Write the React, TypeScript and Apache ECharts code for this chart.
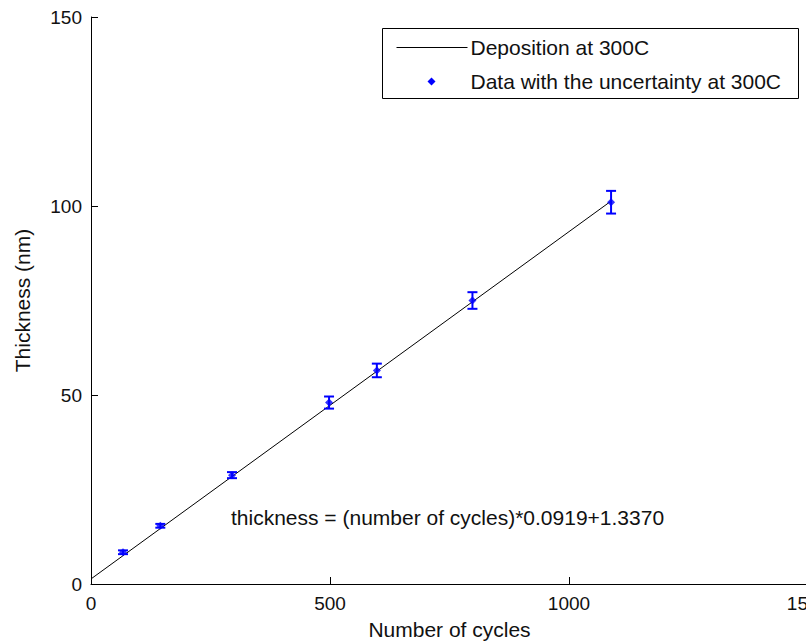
import React, { useEffect, useRef } from "react";
import * as echarts from "echarts";

const cycles = [67, 145, 295, 498, 598, 798, 1088];
const thickness = [8.4, 15.4, 28.8, 48.0, 56.5, 75.0, 101.0];
const uncertainty = [0.5, 0.5, 0.8, 1.6, 1.8, 2.2, 3.0];
const fitCycles = [0, 1088];
const fitThickness = [1.34, 101.3];
const xTicks = [0, 500, 1000, 1500];
const yTicks = [0, 50, 100, 150];
const lineName = "Deposition at 300C";
const dataName = "Data with the uncertainty at 300C";
const equation = "thickness = (number of cycles)*0.0919+1.3370";

export default function App() {
  const ref = useRef<HTMLDivElement>(null);
  useEffect(() => {
    if (!ref.current) return;
    const chart = echarts.init(ref.current, null, { renderer: "svg" });
    const font = "'Liberation Sans', Arial, sans-serif";
    const txt = "#111";
    chart.setOption({
      animation: false,
      backgroundColor: "#fff",
      textStyle: { fontFamily: font },
      grid: { left: 91, top: 17, width: 717, height: 567, containLabel: false, outerBoundsMode: "none" },
      xAxis: {
        type: "value",
        min: xTicks[0],
        max: xTicks[xTicks.length - 1],
        interval: 500,
        name: "Number of cycles",
        nameLocation: "middle",
        nameGap: 35,
        nameTextStyle: { fontSize: 21, color: txt, fontFamily: font },
        axisLine: { lineStyle: { color: "#000", width: 1 } },
        axisTick: { inside: true, length: 7, lineStyle: { color: "#000" } },
        axisLabel: { fontSize: 19, color: txt, margin: 10, fontFamily: font, formatter: (v: number) => String(v), hideOverlap: false },
        splitLine: { show: false },
      },
      yAxis: {
        type: "value",
        min: yTicks[0],
        max: yTicks[yTicks.length - 1],
        interval: 50,
        name: "Thickness (nm)",
        nameLocation: "middle",
        nameGap: 58,
        nameTextStyle: { fontSize: 21, color: txt, fontFamily: font },
        axisLine: { show: true, lineStyle: { color: "#000", width: 1 } },
        axisTick: { show: true, inside: true, length: 7, lineStyle: { color: "#000" } },
        axisLabel: { fontSize: 19, color: txt, margin: 9, fontFamily: font, formatter: (v: number) => String(v) },
        splitLine: { show: false },
      },
      series: [
        {
          name: lineName,
          type: "line",
          data: fitCycles.map((c, i) => [c, fitThickness[i]]),
          showSymbol: false,
          lineStyle: { color: "#000", width: 1 },
          z: 2,
        },
        {
          name: "errorbars",
          type: "custom",
          data: cycles.map((c, i) => [c, thickness[i] - uncertainty[i], thickness[i] + uncertainty[i]]),
          renderItem: (params: any, api: any) => {
            const x = api.value(0);
            const lo = api.coord([x, api.value(1)]);
            const hi = api.coord([x, api.value(2)]);
            const hw = 5;
            const style = { stroke: "#0000ff", lineWidth: 2 };
            return {
              type: "group",
              children: [
                { type: "line", shape: { x1: lo[0], y1: lo[1], x2: hi[0], y2: hi[1] }, style },
                { type: "line", shape: { x1: lo[0] - hw, y1: lo[1], x2: lo[0] + hw, y2: lo[1] }, style },
                { type: "line", shape: { x1: hi[0] - hw, y1: hi[1], x2: hi[0] + hw, y2: hi[1] }, style },
              ],
            };
          },
          z: 3,
        },
        {
          name: dataName,
          type: "scatter",
          data: cycles.map((c, i) => [c, thickness[i]]),
          symbol: "diamond",
          symbolSize: 8,
          itemStyle: { color: "#0000ff" },
          z: 4,
        },
      ],
      graphic: [
        {
          type: "text",
          left: 231,
          top: 507,
          style: { text: equation, fontSize: 21, fill: txt, fontFamily: font },
        },
        {
          type: "group",
          left: 382,
          top: 28,
          children: [
            {
              type: "rect",
              shape: { x: 0, y: 0, width: 416, height: 70 },
              style: { fill: "#fff", stroke: "#000", lineWidth: 1 },
            },
            {
              type: "line",
              shape: { x1: 14, y1: 19, x2: 85, y2: 19 },
              style: { stroke: "#000", lineWidth: 1 },
            },
            {
              type: "polygon",
              shape: { points: [[49, 49], [53, 53], [49, 57], [45, 53]] },
              style: { fill: "#0000ff" },
            },
            {
              type: "text",
              x: 88,
              y: 19,
              style: { text: lineName, fontSize: 21, fill: txt, fontFamily: font, verticalAlign: "middle" },
            },
            {
              type: "text",
              x: 88,
              y: 53,
              style: { text: dataName, fontSize: 21, fill: txt, fontFamily: font, verticalAlign: "middle" },
            },
          ],
        },
      ],
    });
    return () => chart.dispose();
  }, []);
  return (
    <div
      ref={ref}
      style={{ position: "fixed", left: 0, top: 0, width: 806, height: 644, background: "#fff" }}
    />
  );
}
